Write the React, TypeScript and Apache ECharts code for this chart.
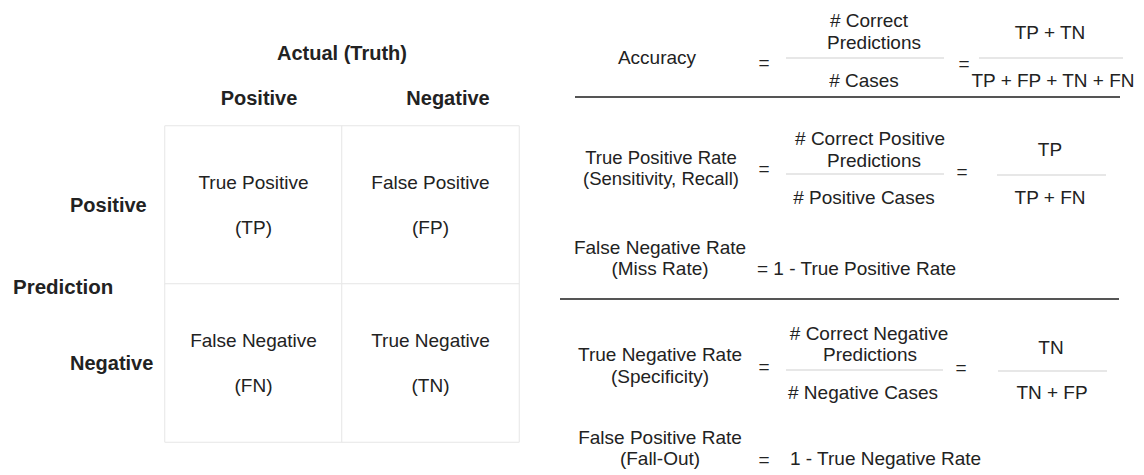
import React, { useEffect, useRef } from 'react';
import * as echarts from 'echarts';

// ---- content ----
const actualClasses = ['Positive', 'Negative'];
const predictedClasses = ['Positive', 'Negative'];
const cellNames = ['True Positive', 'False Positive', 'False Negative', 'True Negative'];
const cellCodes = ['TP', 'FP', 'FN', 'TN'];
const axisTitles = ['Actual (Truth)', 'Prediction'];

const metricLabels = [
  ['Accuracy'],
  ['True Positive Rate', '(Sensitivity, Recall)'],
  ['False Negative Rate', '(Miss Rate)'],
  ['True Negative Rate', '(Specificity)'],
  ['False Positive Rate', '(Fall-Out)'],
];
const wordNumerators = [['# Correct', 'Predictions'], ['# Correct Positive', 'Predictions'], null, ['# Correct Negative', 'Predictions'], null];
const wordDenominators = ['# Cases', '# Positive Cases', null, '# Negative Cases', null];
const codeNumerators = ['TP + TN', 'TP', null, 'TN', null];
const codeDenominators = ['TP + FP + TN + FN', 'TP + FN', null, 'TN + FP', null];
const complements = [null, null, '= 1 - True Positive Rate', null, '1 - True Negative Rate'];

// ---- layout (positions only) ----
const FONT = '"Liberation Sans", Arial, sans-serif';
const INK = '#222';
const rowLayout = [
  { labelX: 657, labelY: [57], labelSize: 19, eq1: [764, 62], numX: [869, 874], numY: [20, 42], line: [786, 944, 58], denX: 864, denY: 80, eq2: [964, 63], cnX: 1050, cnY: 32, cLine: [979, 1123, 58], cdX: 1053, cdY: 80 },
  { labelX: 661, labelY: [157, 178], labelSize: 18.5, eq1: [764, 168], numX: [870, 874], numY: [138, 160], line: [786, 944, 174], denX: 864, denY: 197, eq2: [962, 171], cnX: 1050, cnY: 149, cLine: [997, 1106, 175], cdX: 1050, cdY: 197 },
  { labelX: 660, labelY: [247, 268], labelSize: 19, compX: 757, compY: 268 },
  { labelX: 660, labelY: [354, 376], labelSize: 19, eq1: [764, 366], numX: [869, 870], numY: [333, 354], line: [786, 943, 370], denX: 863, denY: 392, eq2: [961, 367], cnX: 1051, cnY: 347, cLine: [998, 1107, 371], cdX: 1052, cdY: 392 },
  { labelX: 660, labelY: [437, 458], labelSize: 19, eq1: [764, 459], compX: 790, compY: 458 },
];
const dividers = [[575, 1120, 97], [560, 1119, 299]];

function txt(text: string, x: number, y: number, opts: any = {}) {
  const align = opts.align || 'center';
  return {
    type: 'text',
    x,
    y,
    silent: true,
    style: {
      text,
      font: `${opts.bold ? 'bold ' : ''}${opts.size || 19}px ${FONT}`,
      fill: INK,
      align,
      textAlign: align,
      verticalAlign: 'middle',
      textVerticalAlign: 'middle',
    },
  };
}
function hline(x1: number, x2: number, y: number, stroke: string, lineWidth: number) {
  return { type: 'line', silent: true, shape: { x1, y1: y, x2, y2: y }, style: { stroke, lineWidth } };
}

export default function App() {
  const ref = useRef<HTMLDivElement>(null);
  useEffect(() => {
    if (!ref.current) return;
    const chart = echarts.init(ref.current, undefined, { renderer: 'svg' });

    const heatData: any[] = [];
    predictedClasses.forEach((_, r) => {
      actualClasses.forEach((_, c) => {
        const i = r * actualClasses.length + c;
        heatData.push({ value: [c, r, 1], name: cellNames[i], code: cellCodes[i] });
      });
    });

    const graphics: any[] = [];
    graphics.push(txt(axisTitles[0], 342, 53, { bold: true, size: 20 }));
    graphics.push(txt(axisTitles[1], 13, 286, { bold: true, size: 20.5, align: 'left' }));
    const headerX = [259, 448];
    actualClasses.forEach((c, i) => graphics.push(txt(c, headerX[i], 98, { bold: true, size: 20 })));

    metricLabels.forEach((lines, i) => {
      const L: any = rowLayout[i];
      lines.forEach((s, j) => graphics.push(txt(s, L.labelX, L.labelY[j], { size: L.labelSize })));
      if (L.eq1) graphics.push(txt('=', L.eq1[0], L.eq1[1]));
      const num = wordNumerators[i];
      if (num) {
        num.forEach((s, j) => graphics.push(txt(s, L.numX[j], L.numY[j])));
        graphics.push(hline(L.line[0], L.line[1], L.line[2], '#cfcfcf', 1));
        graphics.push(txt(wordDenominators[i] as string, L.denX, L.denY));
        graphics.push(txt('=', L.eq2[0], L.eq2[1]));
        graphics.push(txt(codeNumerators[i] as string, L.cnX, L.cnY));
        graphics.push(hline(L.cLine[0], L.cLine[1], L.cLine[2], '#cfcfcf', 1));
        graphics.push(txt(codeDenominators[i] as string, L.cdX, L.cdY));
      }
      const comp = complements[i];
      if (comp) graphics.push(txt(comp, L.compX, L.compY, { align: 'left' }));
    });
    dividers.forEach((d) => graphics.push(hline(d[0], d[1], d[2], '#555', 2)));

    chart.setOption({
      animation: false,
      backgroundColor: '#ffffff',
      grid: { left: 165, top: 126, width: 354, height: 316 },
      xAxis: {
        type: 'category',
        data: actualClasses,
        position: 'top',
        axisLine: { show: false },
        axisTick: { show: false },
        axisLabel: { show: false },
        splitLine: { show: false },
      },
      yAxis: {
        type: 'category',
        data: predictedClasses,
        inverse: true,
        axisLine: { show: false },
        axisTick: { show: false },
        splitLine: { show: false },
        axisLabel: {
          margin: 95,
          align: 'left',
          fontFamily: FONT,
          fontWeight: 'bold',
          fontSize: 20,
          color: INK,
        },
      },
      visualMap: { show: false, min: 0, max: 1, dimension: 2, inRange: { color: ['#ffffff', '#ffffff'] } },
      series: [
        {
          type: 'heatmap',
          data: heatData,
          itemStyle: { borderColor: '#e6e6e6', borderWidth: 1 },
          emphasis: { disabled: true },
          label: {
            show: true,
            fontFamily: FONT,
            fontSize: 19,
            lineHeight: 22.5,
            color: INK,
            formatter: (p: any) => `${p.data.name}\n\n(${p.data.code})`,
          },
        },
      ],
      graphic: graphics,
    });
    return () => chart.dispose();
  }, []);
  return <div ref={ref} style={{ position: 'absolute', left: 0, top: 0, width: 1144, height: 475 }} />;
}
